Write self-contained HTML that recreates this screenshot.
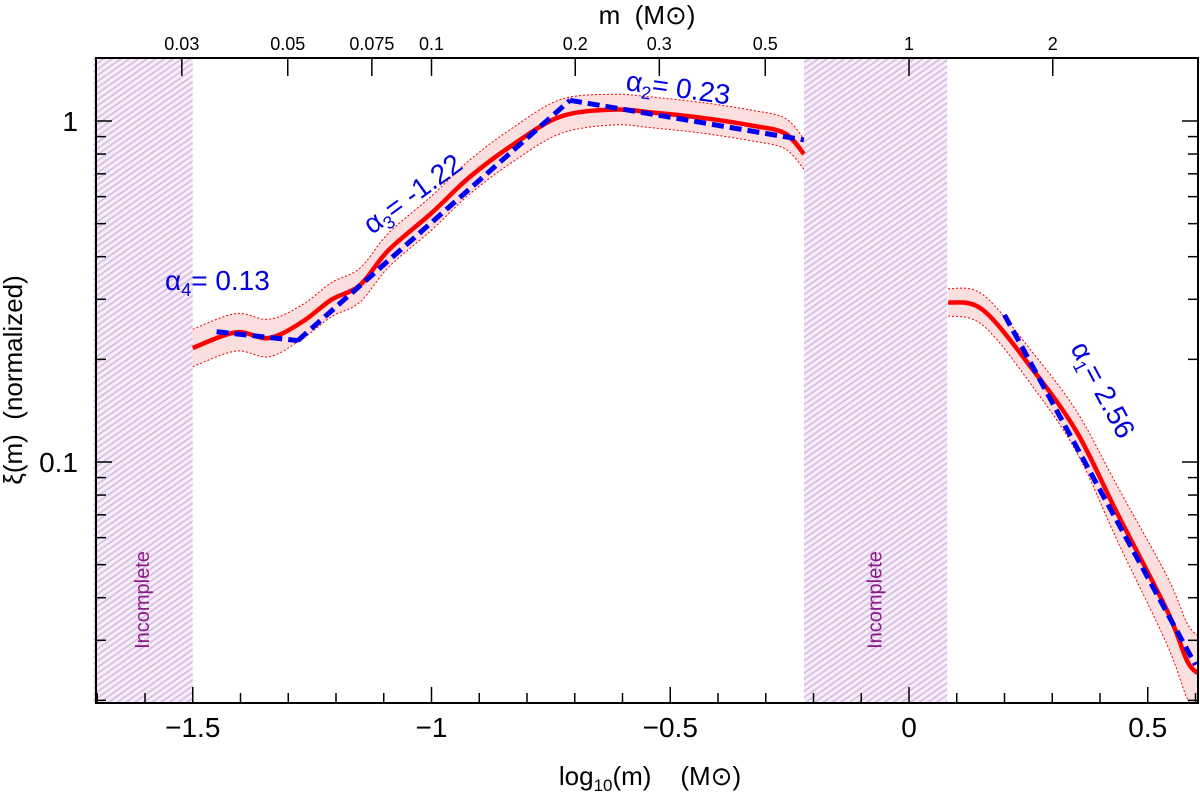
<!DOCTYPE html>
<html><head><meta charset="utf-8"><style>
body{margin:0;background:#fff}
svg{display:block;font-family:"Liberation Sans",sans-serif}
</style></head><body>
<svg id="c" width="1200" height="798">
<defs>
<pattern id="hatch" width="5" height="5" patternUnits="userSpaceOnUse" patternTransform="rotate(-35)">
<rect width="5" height="5" fill="#f6eef8"/><line x1="0" y1="2.5" x2="5" y2="2.5" stroke="#d8b8e2" stroke-width="1.6"/>
</pattern>
<clipPath id="clip"><rect x="96" y="58" width="1102" height="645"/></clipPath>
</defs>
<g id="regions"></g>
<g id="plot"></g>
<g id="axes"></g>
<text x="650" y="785" text-anchor="middle" font-size="26">log<tspan font-size="17" dy="6">10</tspan><tspan dy="-6">(m)&#160;&#160;&#160;&#160;(M⊙)</tspan></text>
<text x="647" y="24" text-anchor="middle" font-size="26">m&#160;&#160;(M⊙)</text>
<text transform="translate(22,380) rotate(-90)" text-anchor="middle" font-size="26">ξ(m)&#160;&#160;(normalized)</text>
<g fill="#0000e0" font-size="28">
<text x="165" y="290">α<tspan font-size="18" dy="6">4</tspan><tspan dy="-6">= 0.13</tspan></text>
<text transform="translate(372,235) rotate(-36)">α<tspan font-size="18" dy="6">3</tspan><tspan dy="-6">= -1.22</tspan></text>
<text transform="translate(625,90) rotate(8)">α<tspan font-size="18" dy="6">2</tspan><tspan dy="-6">= 0.23</tspan></text>
<text transform="translate(1070,348) rotate(62)">α<tspan font-size="18" dy="6">1</tspan><tspan dy="-6">= 2.56</tspan></text>
</g>
</svg>
<script>
const redX1=[-1.5,-1.41,-1.34,-1.27,-1.21,-1.15,-1.09,-1.0,-0.92,-0.83,-0.73,-0.62,-0.54,-0.43,-0.33,-0.26,-0.22];
const redY1=[0.216,0.240,0.231,0.258,0.299,0.330,0.418,0.537,0.685,0.851,1.03,1.08,1.06,1.02,0.97,0.92,0.80];
const redX2=[0.082,0.155,0.26,0.352,0.436,0.54,0.582,0.605];
const redY2=[0.294,0.279,0.186,0.122,0.0708,0.0368,0.0262,0.024];
const errX1=[0.055,0.055,0.055,0.05,0.05,0.05,0.05,0.05,0.05,0.05,0.05,0.045,0.045,0.045,0.045,0.045,0.045];
const errX2=[0.04,0.045,0.05,0.06,0.08,0.1,0.11,0.11];
const blueX=[[-1.45,-1.28],[-1.28,-0.71],[-0.71,-0.22],[0.2,0.6]];
const blueY=[[0.241,0.227],[0.227,1.15],[1.15,0.88],[0.27,0.0254]];
const topTicks=[0.03,0.05,0.075,0.1,0.2,0.3,0.5,1,2];
const bottomTicks=[-1.5,-1,-0.5,0,0.5];
const incompleteRanges=[[-1.708,-1.5],[-0.22,0.08]];

const L=96,T=58,R=1198,B=703;
const X=v=>909+v*477.5;
const Y=v=>462-(Math.log10(v)+1)*341;
const NS='http://www.w3.org/2000/svg';
const regions=document.getElementById('regions'),plot=document.getElementById('plot'),axes=document.getElementById('axes');
function mk(tag,attrs,parent){const e=document.createElementNS(NS,tag);for(const k in attrs)e.setAttribute(k,attrs[k]);parent.appendChild(e);return e;}

incompleteRanges.forEach((r,i)=>{
 const e=mk('rect',{x:X(r[0]),y:T,width:X(r[1])-X(r[0]),height:B-T,fill:'url(#hatch)'},regions);
 
 
 const cx=(X(r[0])+X(r[1]))/2+6;
 const t=mk('text',{x:0,y:0,transform:`translate(${cx},600) rotate(-90)`,'text-anchor':'middle','font-size':20,fill:'#8a1a8a'},regions);
 t.textContent='Incomplete';
 
 
});

const g=mk('g',{'clip-path':'url(#clip)'},plot);
function band(xs,ys,er){
 let up=xs.map((x,i)=>[X(x),Y(ys[i]*Math.pow(10,er[i]))]);
 let lo=xs.map((x,i)=>[X(x),Y(ys[i]/Math.pow(10,er[i]))]);
 const e=mk('path',{d:smooth(up)+'L'+smooth(lo.slice().reverse()).slice(1)+'Z',fill:'#fbdede'},g);
 
 
 [up,lo].forEach(pts=>{const l=mk('path',{d:smooth(pts),fill:'none',stroke:'#e00',"stroke-width":1,"stroke-dasharray":"2,2"},g);
 
 });
}
function smooth(pts){let d='M'+pts[0].join(',');for(let i=0;i<pts.length-1;i++){const p0=pts[i-1]||pts[i],p1=pts[i],p2=pts[i+1],p3=pts[i+2]||p2;d+=`C${p1[0]+(p2[0]-p0[0])/6},${p1[1]+(p2[1]-p0[1])/6} ${p2[0]-(p3[0]-p1[0])/6},${p2[1]-(p3[1]-p1[1])/6} ${p2[0]},${p2[1]}`;}return d;}
band(redX1,redY1,errX1);band(redX2,redY2,errX2);
[[redX1,redY1],[redX2,redY2]].forEach(([xs,ys])=>{
 const e=mk('path',{d:smooth(xs.map((x,i)=>[X(x),Y(ys[i])])),fill:'none',stroke:'#f00','stroke-width':4.5},g);
 
 
});
blueX.forEach((xs,k)=>{
 const e=mk('line',{x1:X(xs[0]),y1:Y(blueY[k][0]),x2:X(xs[1]),y2:Y(blueY[k][1]),stroke:'#0000f0','stroke-width':5,'stroke-dasharray':'12,6'},g);
 
 
});

const fr=mk('rect',{x:L,y:T,width:R-L,height:B-T,fill:'none',stroke:'#000','stroke-width':2},axes);


for(let dec=-2;dec<=0;dec++){for(let m=1;m<=9;m++){const v=m*Math.pow(10,dec);const y=Y(v);if(y<T||y>B)continue;const len=m==1?16:10;
 mk('line',{x1:L,y1:y,x2:L+len,y2:y,stroke:'#000','stroke-width':1.5},axes);mk('line',{x1:R-len,y1:y,x2:R,y2:y,stroke:'#000','stroke-width':1.5},axes);
 if(m==1){const t=mk('text',{x:L-18,y:y+10,'text-anchor':'end','font-size':28},axes);t.textContent=v>=1?'1':String(v);}}}
for(let i=-17;i<=6;i++){const v=i/10;const x=X(v);const maj=(i%5===0);mk('line',{x1:x,y1:B,x2:x,y2:B-(maj?16:10),stroke:'#000','stroke-width':1.5},axes);}
bottomTicks.forEach(v=>{const t=mk('text',{x:X(v),y:B+34,'text-anchor':'middle','font-size':28},axes);t.textContent=v<0?'\u2212'+(-v):String(v);
 });
topTicks.forEach(m=>{const x=X(Math.log10(m));mk('line',{x1:x,y1:T,x2:x,y2:T+18,stroke:'#000','stroke-width':1.5},axes);
 const t=mk('text',{x:x,y:T-8,'text-anchor':'middle','font-size':18},axes);t.textContent=String(m);
 });
</script>
</body></html>
